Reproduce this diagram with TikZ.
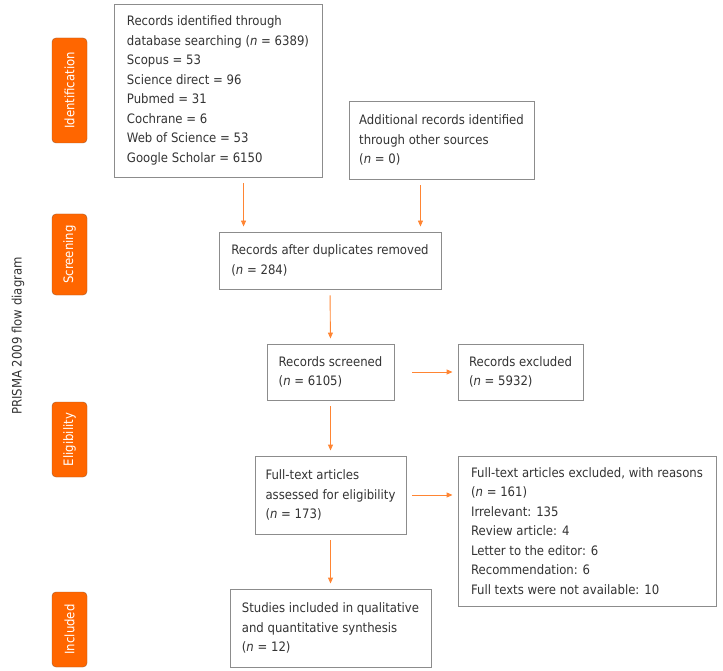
\documentclass[tikz,border=0pt]{standalone}
\usepackage{fontspec}
\setmainfont{DejaVu Sans Condensed}
\usepackage{xcolor}
\usepackage{tikz}
\usetikzlibrary{arrows.meta}

\definecolor{tabfill}{HTML}{FF6600}
\definecolor{tabline}{HTML}{A65A2A}
\definecolor{arrline}{HTML}{FF8533}
\definecolor{boxline}{HTML}{8C8C8C}
\definecolor{txtgray}{HTML}{333333}

\tikzset{
    box/.style={draw=boxline, line width=0.9pt, align=left, text=txtgray,
        font=\fontsize{13}{19.5}\selectfont, inner sep=0pt},
    stagetab/.style={draw=tabline, fill=tabfill, rounded corners=4pt, text=white,
        rotate=90, minimum height=35pt, inner sep=0pt,
        font=\fontsize{13}{15}\selectfont},
    arr/.style={draw=arrline, line width=0.9pt, -{Triangle[length=6pt,width=5pt]},
        shorten <=6pt, shorten >=5pt}
}

\begin{document}
\begin{tikzpicture}[x=1pt,y=-1pt]
        \useasboundingbox (0,0) rectangle (723,671);
        % side title
        \node[rotate=90, text=txtgray, font=\fontsize{13}{15}\selectfont] (title) at (18,336) {PRISMA 2009 flow diagram};
        % stages
        \node[stagetab, minimum width=105pt] (tabid) at (69.5,90.5) {Identification};
        \node[stagetab, minimum width=81pt] (tabscr) at (69.5,254.5) {Screening};
        \node[stagetab, minimum width=75pt] (tabelig) at (69.5,439.5) {Eligibility};
        \node[stagetab, minimum width=75pt] (tabinc) at (69.5,629.5) {Included};
        % boxes
        \node[box, minimum width=208pt, minimum height=173pt] (ident) at (218,90.5)
            {Records identified through\\database searching (\textit{n} = 6389)\\Scopus = 53\\Science direct = 96\\Pubmed = 31\\Cochrane = 6\\Web of Science = 53\\Google Scholar = 6150};
        \node[box, minimum width=185pt, minimum height=78pt] (addit) at (441.5,140)
            {Additional records identified\\through other sources\\(\textit{n} = 0)};
        \node[box, minimum width=222pt, minimum height=57pt] (dupl) at (330,260.5)
            {Records after duplicates removed\\(\textit{n} = 284)};
        \node[box, minimum width=127pt, minimum height=56pt] (screen) at (330.5,372)
            {Records screened\\(\textit{n} = 6105)};
        \node[box, minimum width=125pt, minimum height=56pt] (excl) at (520.5,372)
            {Records excluded\\(\textit{n} = 5932)};
        \node[box, minimum width=151pt, minimum height=78pt] (fulltext) at (330.5,495)
            {Full-text articles\\assessed for eligibility\\(\textit{n} = 173)};
        \node[box, minimum width=258pt, minimum height=150pt] (ftexcl) at (587,531)
            {Full-text articles excluded, with reasons\\(\textit{n} = 161)\\Irrelevant: 135\\Review article: 4\\Letter to the editor: 6\\Recommendation: 6\\Full texts were not available: 10};
        \node[box, minimum width=201pt, minimum height=78pt] (incl) at (330.5,628)
            {Studies included in qualitative\\and quantitative synthesis\\(\textit{n} = 12)};
        % arrows
        \draw[arr] ([xshift=25pt]dupl.north west |- ident.south) -- ([xshift=25pt]dupl.north west);
        \draw[arr] ([xshift=-21pt]dupl.north east |- addit.south) -- ([xshift=-21pt]dupl.north east);
        \draw[arr] (dupl.south) -- (screen.north);
        \draw[arr] (fulltext.east |- screen.east) -- (excl.west);
        \draw[arr] (screen.south) -- (fulltext.north);
        \draw[arr] (fulltext.east) -- (fulltext.east -| ftexcl.west);
        \draw[arr] (fulltext.south) -- (incl.north);
\end{tikzpicture}
\end{document}
